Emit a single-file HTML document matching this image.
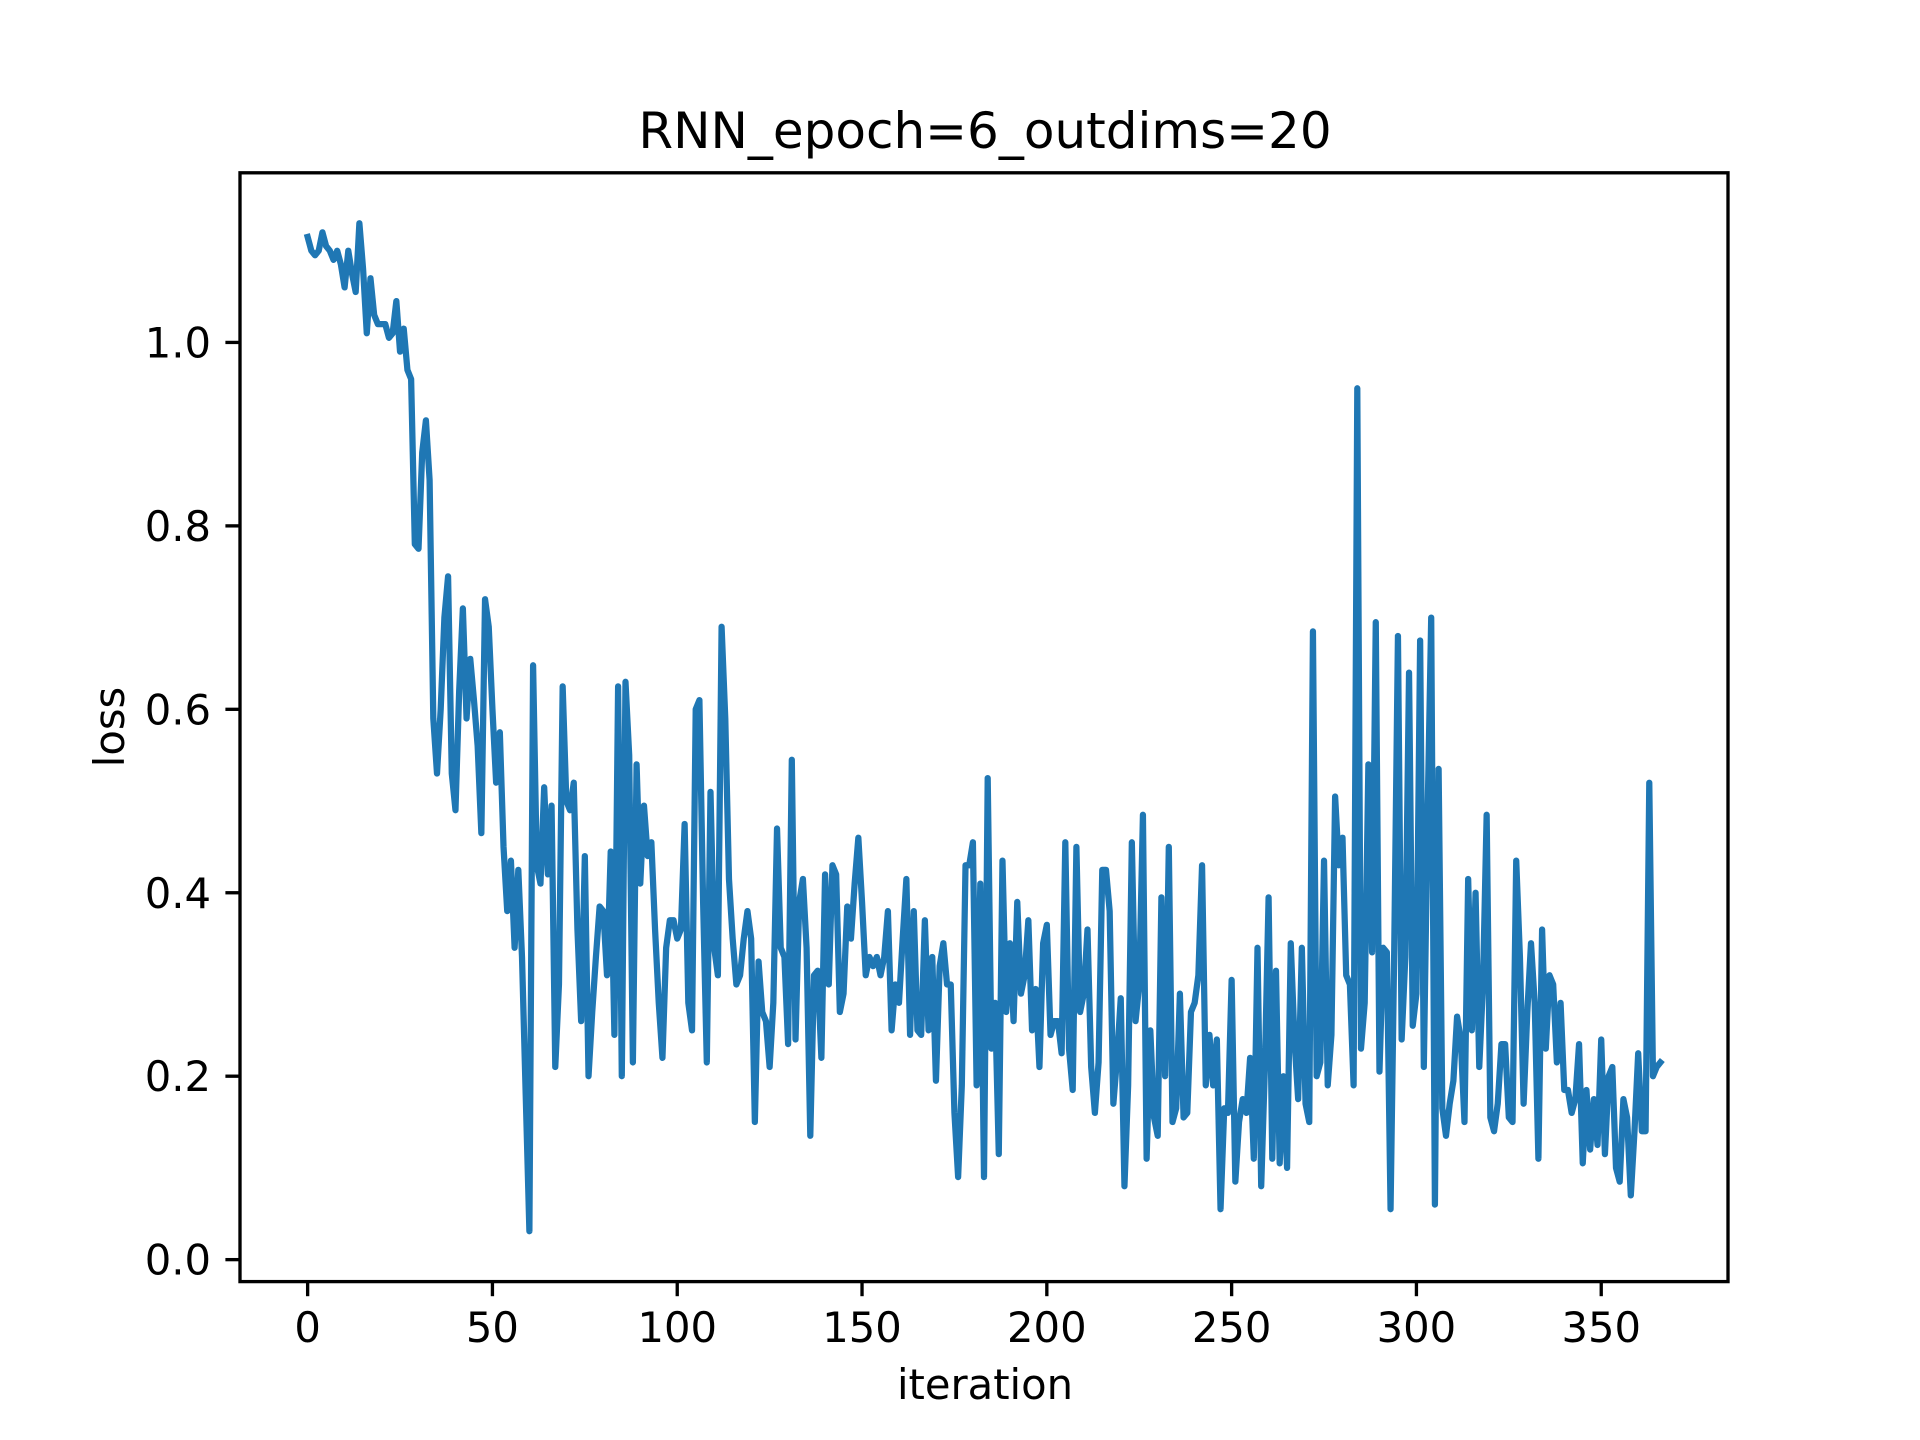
<!DOCTYPE html>
<html><head><meta charset="utf-8">
<style>html,body{margin:0;padding:0;background:#fff;}svg{display:block;}text{font-family:"DejaVu Sans","Liberation Sans",sans-serif;fill:#000;}</style>
</head><body>
<svg id="chart" width="1920" height="1440" viewBox="0 0 1920 1440" xmlns="http://www.w3.org/2000/svg">
<rect width="1920" height="1440" fill="#fff"/>
<text x="985" y="148" font-size="50" text-anchor="middle">RNN_epoch=6_outdims=20</text>
<g id="plot"></g>
<text x="985" y="1399" font-size="41.7" text-anchor="middle">iteration</text>
<text x="0" y="0" font-size="41.7" text-anchor="middle" transform="translate(124,727) rotate(-90)">loss</text>
</svg>
<script>
const lossValues = [1.115,1.10,1.095,1.10,1.12,1.105,1.10,1.09,1.10,1.085,1.06,1.10,1.075,1.055,1.13,1.08,1.01,1.07,1.03,1.02,1.02,1.02,1.005,1.01,1.045,0.99,1.015,0.97,0.96,0.78,0.775,
0.88,0.915,0.85,0.59,0.53,0.60,0.70,0.745,0.53,0.49,
0.62,0.71,0.59,0.655,0.61,0.56,0.465,0.72,0.69,0.60,
0.52,0.575,0.45,0.38,0.435,0.34,0.425,0.33,0.18,0.031,
0.648,0.43,0.41,0.515,0.42,0.495,0.21,0.30,0.625,0.50,
0.49,0.52,0.36,0.26,0.44,0.20,0.27,0.33,0.385,0.38,
0.31,0.445,0.245,0.625,0.20,0.63,0.55,0.215,0.54,0.41,
0.495,0.44,0.455,0.36,0.28,0.22,0.34,0.37,0.37,0.35,
0.36,0.475,0.28,0.25,0.60,0.61,0.39,0.215,0.51,0.34,0.31,
0.69,0.59,0.415,0.35,0.30,0.31,0.35,0.38,0.35,0.15,
0.325,0.27,0.26,0.21,0.28,0.47,0.34,0.33,0.235,0.545,
0.24,0.39,0.415,0.34,0.135,0.31,0.315,0.22,0.42,0.30,
0.43,0.42,0.27,0.29,0.385,0.35,0.41,0.46,0.39,0.31,
0.33,0.32,0.33,0.31,0.33,0.38,0.25,0.30,0.28,0.35,
0.415,0.245,0.38,0.25,0.245,0.37,0.25,0.33,0.195,0.32,
0.345,0.30,0.30,0.16,0.09,0.19,0.43,0.43,0.455,0.19,
0.41,0.09,0.525,0.23,0.28,0.115,0.435,0.27,0.345,0.26,
0.39,0.29,0.31,0.37,0.25,0.295,0.21,0.345,0.365,0.245,
0.26,0.26,0.225,0.455,0.23,0.185,0.45,0.27,0.29,0.36,
0.21,0.16,0.215,0.425,0.425,0.38,0.17,0.22,0.285,0.08,
0.19,0.455,0.26,0.30,0.485,0.11,0.25,0.155,0.135,0.395,0.20,
0.45,0.15,0.165,0.29,0.155,0.16,0.27,0.28,0.31,0.43,
0.19,0.245,0.19,0.24,0.055,0.165,0.16,0.305,0.085,0.15,0.175,
0.16,0.22,0.11,0.34,0.08,0.21,0.395,0.11,0.315,0.105,
0.20,0.10,0.345,0.24,0.175,0.34,0.17,0.15,0.685,0.20,
0.215,0.435,0.19,0.245,0.505,0.43,0.46,0.31,0.30,0.19,
0.95,0.23,0.28,0.54,0.335,0.695,0.205,0.34,0.335,0.055,
0.34,0.68,0.24,0.33,0.64,0.255,0.29,0.675,0.21,0.48,
0.70,0.06,0.535,0.165,0.135,0.17,0.195,0.265,0.24,0.15,
0.415,0.25,0.40,0.21,0.30,0.485,0.155,0.14,0.17,0.235,
0.235,0.155,0.15,0.435,0.33,0.17,0.27,0.345,0.28,0.11,
0.36,0.23,0.31,0.30,0.215,0.28,0.185,0.185,0.16,0.175,
0.235,0.105,0.185,0.12,0.175,0.125,0.24,0.115,0.20,0.21,
0.10,0.085,0.175,0.155,0.07,0.14,0.225,0.14,0.14,0.52,0.20,0.21,0.215];
const xTicks = [0,50,100,150,200,250,300,350];
const yTicks = [0.0,0.2,0.4,0.6,0.8,1.0];
const yTickLabels = ["0.0","0.2","0.4","0.6","0.8","1.0"];

const NS = "http://www.w3.org/2000/svg";
const plot = document.getElementById('plot');
const L = 240, R = 1728, T = 172.8, B = 1281.6;
const n = lossValues.length;
const xmin = -0.05*(n-1), xmax = (n-1)*1.05;
let vmin = Math.min(...lossValues), vmax = Math.max(...lossValues);
const pad = 0.05*(vmax-vmin);
const ymin = vmin-pad, ymax = vmax+pad;
function sx(x){return L + (x-xmin)/(xmax-xmin)*(R-L);}
function sy(y){return B - (y-ymin)/(ymax-ymin)*(B-T);}
function mk(tag, attrs){const e=document.createElementNS(NS,tag);for(const k in attrs)e.setAttribute(k,attrs[k]);return e;}

let d = lossValues.map((v,i)=>(i?'L':'M')+sx(i).toFixed(2)+' '+sy(v).toFixed(2)).join(' ');
const line = mk('path',{d:d,fill:'none',stroke:'#1f77b4','stroke-width':6.25,'stroke-linejoin':'round','stroke-linecap':'square'});


plot.appendChild(line);

const frame = mk('rect',{x:L,y:T,width:R-L,height:B-T,fill:'none',stroke:'#000','stroke-width':3.33});


plot.appendChild(frame);

xTicks.forEach(t=>{
  const x = sx(t);
  const tk = mk('line',{x1:x,x2:x,y1:B,y2:B+14.6,stroke:'#000','stroke-width':3.33});
  
  
  plot.appendChild(tk);
  const tx = mk('text',{x:x,y:1342,'font-size':41.7,'text-anchor':'middle'});
  tx.textContent = String(t);
  
  
  plot.appendChild(tx);
});
yTicks.forEach((t,i)=>{
  const y = sy(t);
  const tk = mk('line',{x1:L-14.6,x2:L,y1:y,y2:y,stroke:'#000','stroke-width':3.33});
  
  
  plot.appendChild(tk);
  const tx = mk('text',{x:211,y:y+15,'font-size':41.7,'text-anchor':'end'});
  tx.textContent = yTickLabels[i];
  
  
  plot.appendChild(tx);
});
</script>
</body></html>
